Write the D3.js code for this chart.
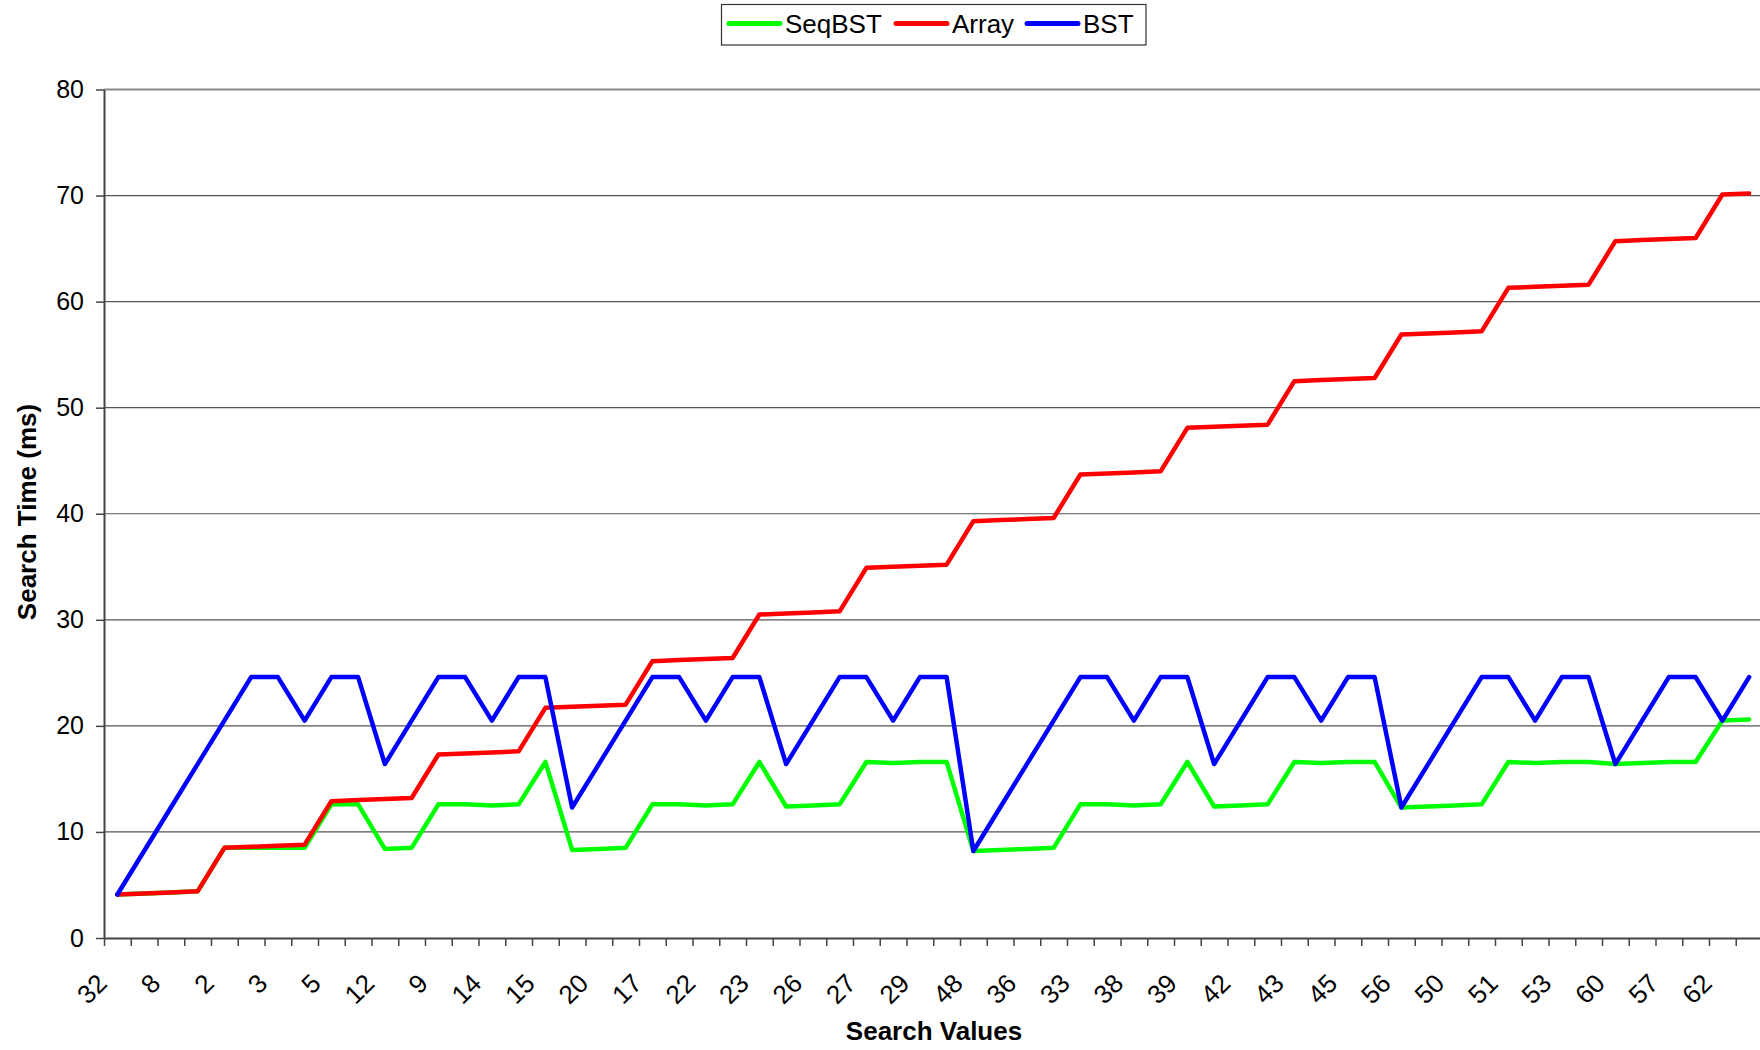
<!DOCTYPE html>
<html>
<head>
<meta charset="utf-8">
<script src="https://cdn.jsdelivr.net/npm/d3@7"></script>
<style>
  html, body { margin: 0; padding: 0; background: #fff; }
  svg { display: block; }
  text { font-family: "Liberation Sans", Arial, sans-serif; fill: #000; }
</style>
</head>
<body>
<svg id="chart" width="1760" height="1050"></svg>
<script>
// Search values (pre-order sequence); only every other one is labelled on the axis
const categories = [32,16,8,4,2,1,3,6,5,7,12,10,9,11,14,13,15,24,20,18,17,19,22,21,23,28,26,25,27,30,29,31,
                    48,40,36,34,33,35,38,37,39,44,42,41,43,46,45,47,56,52,50,49,51,54,53,55,60,58,57,59,62,61];

const seqBST = [4.1,4.2,4.3,4.4,8.5,8.5,8.5,8.5,12.6,12.6,8.4,8.5,12.6,12.6,12.5,12.6,16.6,8.3,8.4,8.5,
                12.6,12.6,12.5,12.6,16.6,12.4,12.5,12.6,16.6,16.5,16.6,16.6,8.2,8.3,8.4,8.5,12.6,12.6,12.5,12.6,
                16.6,12.4,12.5,12.6,16.6,16.5,16.6,16.6,12.3,12.4,12.5,12.6,16.6,16.5,16.6,16.6,16.4,16.5,16.6,16.6,
                20.5,20.6];

const arrayTimes = [4.1,4.2,4.3,4.4,8.5,8.6,8.7,8.8,12.9,13.0,13.1,13.2,17.3,17.4,17.5,17.6,21.7,21.8,21.9,22.0,
                    26.1,26.2,26.3,26.4,30.5,30.6,30.7,30.8,34.9,35.0,35.1,35.2,39.3,39.4,39.5,39.6,43.7,43.8,43.9,44.0,
                    48.1,48.2,48.3,48.4,52.5,52.6,52.7,52.8,56.9,57.0,57.1,57.2,61.3,61.4,61.5,61.6,65.7,65.8,65.9,66.0,
                    70.1,70.2];

const bstTimes = [4.1,8.2,12.3,16.4,20.5,24.6,24.6,20.5,24.6,24.6,16.4,20.5,24.6,24.6,20.5,24.6,24.6,12.3,16.4,20.5,
                  24.6,24.6,20.5,24.6,24.6,16.4,20.5,24.6,24.6,20.5,24.6,24.6,8.2,12.3,16.4,20.5,24.6,24.6,20.5,24.6,
                  24.6,16.4,20.5,24.6,24.6,20.5,24.6,24.6,12.3,16.4,20.5,24.6,24.6,20.5,24.6,24.6,16.4,20.5,24.6,24.6,
                  20.5,24.6];

const yTicks = [0,10,20,30,40,50,60,70,80];
const seriesNames = ["SeqBST","Array","BST"];
const seriesColors = ["#00ff00","#ff0000","#0000ff"];

const svg = d3.select("#chart");
const plotLeft = 104, plotRight = 1762.5, plotTop = 89.5, plotBottom = 938;

const x = d3.scaleBand().domain(d3.range(categories.length)).range([plotLeft, plotRight]).padding(0);
const xEdge = d3.scaleLinear().domain([0, categories.length]).range([plotLeft, plotRight]);
const cx = i => x(i) + x.bandwidth() / 2;
const y = d3.scaleLinear().domain([0, 80]).range([plotBottom, plotTop]);

// gridlines
svg.append("g").selectAll("line")
  .data(yTicks.filter(t => t > 0 && t < 80))
  .join("line")
  .attr("x1", plotLeft).attr("x2", 1760)
  .attr("y1", d => y(d)).attr("y2", d => y(d))
  .attr("stroke", "#555").attr("stroke-width", 1.2);

svg.append("line")
  .attr("x1", plotLeft).attr("x2", 1760)
  .attr("y1", y(80)).attr("y2", y(80))
  .attr("stroke", "#888").attr("stroke-width", 2);

// y axis
const yAxis = svg.append("g")
  .attr("transform", `translate(${plotLeft},0)`)
  .call(d3.axisLeft(y).tickValues(yTicks).tickSize(8).tickSizeOuter(0).tickPadding(12));
yAxis.select(".domain").attr("stroke", "#444").attr("stroke-width", 2);
yAxis.selectAll(".tick line").attr("stroke", "#444").attr("stroke-width", 1.5);
yAxis.selectAll(".tick text")
  .style("font-family", '"Liberation Sans", Arial, sans-serif')
  .style("font-size", "25px").attr("fill", "#000");

// x axis (ticks at category boundaries)
const xAxis = svg.append("g")
  .attr("transform", `translate(0,${plotBottom})`)
  .call(d3.axisBottom(xEdge).tickValues(d3.range(0, categories.length + 1)).tickFormat("").tickSize(8).tickSizeOuter(0));
xAxis.select(".domain").attr("stroke", "#444").attr("stroke-width", 2);
xAxis.selectAll(".tick line").attr("stroke", "#444").attr("stroke-width", 1.5);

// x labels (every other category)
svg.append("g").selectAll("text")
  .data(categories.map((c, i) => ({c, i})).filter(d => d.i % 2 === 0))
  .join("text")
  .attr("transform", d => `translate(${cx(d.i) - 9},${plotBottom + 47}) rotate(-45)`)
  .attr("text-anchor", "end")
  .style("font-size", "26px")
  .text(d => d.c);

// lines
const line = d3.line().x((d, i) => cx(i)).y(d => y(d));
[seqBST, arrayTimes, bstTimes].forEach((s, k) => {
  svg.append("path")
    .datum(s)
    .attr("d", line)
    .attr("fill", "none")
    .attr("stroke", seriesColors[k])
    .attr("stroke-width", 4.5)
    .attr("stroke-linejoin", "round")
    .attr("stroke-linecap", "round");
});

// axis titles
svg.append("text")
  .attr("x", 934).attr("y", 1040)
  .attr("text-anchor", "middle")
  .style("font-size", "26px").style("font-weight", "bold")
  .text("Search Values");

svg.append("text")
  .attr("transform", "translate(36,512) rotate(-90)")
  .attr("text-anchor", "middle")
  .style("font-size", "26px").style("font-weight", "bold")
  .text("Search Time (ms)");

// legend
const lg = svg.append("g");
lg.append("rect")
  .attr("x", 721.5).attr("y", 4.5).attr("width", 424.5).attr("height", 40.5)
  .attr("fill", "#fff").attr("stroke", "#333").attr("stroke-width", 1.2);
const legendItems = [
  {lx: 729, tx: 785},
  {lx: 896, tx: 952},
  {lx: 1027, tx: 1083}
];
legendItems.forEach((it, k) => {
  lg.append("line")
    .attr("x1", it.lx).attr("x2", it.lx + 51)
    .attr("y1", 23.5).attr("y2", 23.5)
    .attr("stroke", seriesColors[k]).attr("stroke-width", 5)
    .attr("stroke-linecap", "round");
  lg.append("text")
    .attr("x", it.tx).attr("y", 33)
    .style("font-size", "26px")
    .text(seriesNames[k]);
});
</script>
</body>
</html>
